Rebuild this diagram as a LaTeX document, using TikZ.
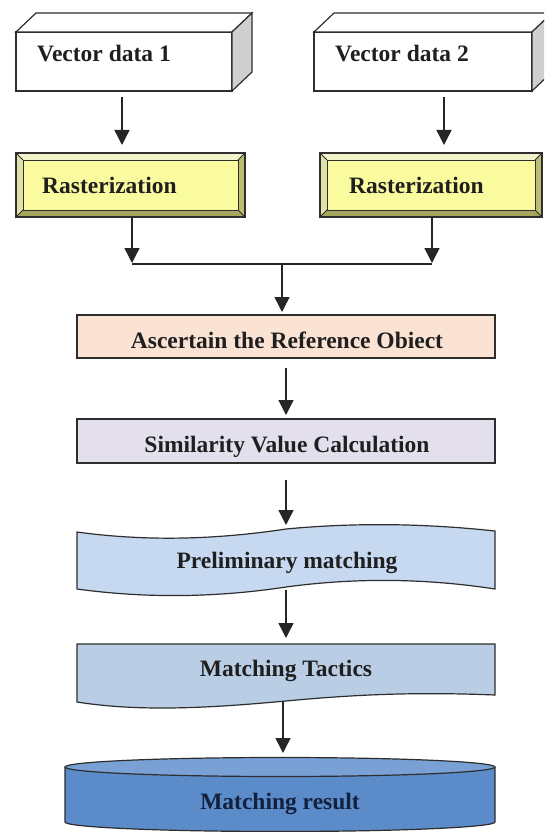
\documentclass[tikz,border=0pt]{standalone}
\usepackage{fontspec}
\setmainfont{Liberation Serif}
\usetikzlibrary{arrows.meta,calc}
\definecolor{peach}{HTML}{FBE3D3}
\definecolor{lav}{HTML}{E4DFEC}
\definecolor{tapeblue}{HTML}{C6D9F1}
\definecolor{docblue}{HTML}{B9CDE5}
\definecolor{cylbody}{HTML}{5B8BC9}
\definecolor{cyltop}{HTML}{79A1D6}
\definecolor{rasfill}{HTML}{FAFA9E}
\definecolor{bevtop}{HTML}{F4F4CC}
\definecolor{bevleft}{HTML}{E2E2A8}
\definecolor{bevright}{HTML}{BDBD72}
\definecolor{bevbot}{HTML}{A6A65E}
\definecolor{edgecol}{HTML}{2E2E2E}
\definecolor{sidegray}{HTML}{CFCFCF}
\definecolor{navytext}{HTML}{13213F}
\newcommand\bevelbox[1]{%
  \fill[bevtop] (#1.north west) -- (#1.north east) -- ([shift={(-7pt,-7pt)}]#1.north east) -- ([shift={(7pt,-7pt)}]#1.north west) -- cycle;
  \fill[bevbot] (#1.south west) -- (#1.south east) -- ([shift={(-7pt,7pt)}]#1.south east) -- ([shift={(7pt,7pt)}]#1.south west) -- cycle;
  \fill[bevleft] (#1.north west) -- ([shift={(7pt,-7pt)}]#1.north west) -- ([shift={(7pt,7pt)}]#1.south west) -- (#1.south west) -- cycle;
  \fill[bevright] (#1.north east) -- ([shift={(-7pt,-7pt)}]#1.north east) -- ([shift={(-7pt,7pt)}]#1.south east) -- (#1.south east) -- cycle;
  \draw[edgecol, line width=1pt, fill=rasfill] ([shift={(7pt,-7pt)}]#1.north west) rectangle ([shift={(-7pt,7pt)}]#1.south east);
  \draw[edgecol, line width=0.8pt] (#1.north west) -- ([shift={(7pt,-7pt)}]#1.north west)
     (#1.north east) -- ([shift={(-7pt,-7pt)}]#1.north east)
     (#1.south west) -- ([shift={(7pt,7pt)}]#1.south west)
     (#1.south east) -- ([shift={(-7pt,7pt)}]#1.south east);
  \draw[edgecol, line width=1.3pt] (#1.north west) rectangle (#1.south east);
}
\begin{document}
\begin{tikzpicture}[x=1pt,y=-1pt,
  box/.style={draw=edgecol, line width=1.3pt, inner sep=0pt, outer sep=0pt},
  anchorbox/.style={inner sep=0pt, outer sep=0pt},
  rasbox/.style={inner sep=0pt, outer sep=0pt, minimum height=64pt},
  lbl/.style={font=\fontsize{23.5}{28}\selectfont\bfseries, text=black!88, inner sep=0pt},
  conn/.style={draw=black!85, line width=1.4pt, -{Triangle[width=15pt,length=15pt]}},
  plain/.style={draw=black!85, line width=1.4pt}]
\clip (0,0) rectangle (544,832);
\fill[white] (0,0) rectangle (544,832);

% cubes
\node[box, fill=white, minimum width=216pt, minimum height=59pt] (v1) at (124,61.5) {};
\draw[edgecol, line width=1.2pt, fill=white] (v1.north west) -- ([shift={(20pt,19pt)}]v1.north west) -- ([shift={(20pt,19pt)}]v1.north east) -- (v1.north east) -- cycle;
\draw[edgecol, line width=1.2pt, fill=sidegray] (v1.north east) -- ([shift={(20pt,19pt)}]v1.north east) -- ([shift={(20pt,19pt)}]v1.south east) -- (v1.south east) -- cycle;
\node[lbl, anchor=base west] (v1t) at (37,62) {Vector data 1};

\node[box, fill=white, minimum width=218pt, minimum height=59pt] (v2) at (423,61.5) {};
\draw[edgecol, line width=1.2pt, fill=white] (v2.north west) -- ([shift={(20pt,19pt)}]v2.north west) -- ([shift={(20pt,19pt)}]v2.north east) -- (v2.north east) -- cycle;
\draw[edgecol, line width=1.2pt, fill=sidegray] (v2.north east) -- ([shift={(20pt,19pt)}]v2.north east) -- ([shift={(20pt,19pt)}]v2.south east) -- (v2.south east) -- cycle;
\node[lbl, anchor=base west] (v2t) at (335,62) {Vector data 2};

% rasterization
\node[rasbox, minimum width=229pt] (r1) at (130.5,185) {};
\bevelbox{r1}
\node[lbl, anchor=base west] (r1t) at (42,193) {Rasterization};
\node[rasbox, minimum width=222pt] (r2) at (431,185) {};
\bevelbox{r2}
\node[lbl, anchor=base west] (r2t) at (349,193) {Rasterization};

% main boxes
\node[box, fill=peach, minimum width=418pt, minimum height=43pt] (asc) at (286,336.5) {};
\node[lbl, anchor=base] (asct) at (287,348) {Ascertain the Reference Obiect};
\node[box, fill=lav, minimum width=418pt, minimum height=44pt] (sim) at (286,441) {};
\node[lbl, anchor=base] (simt) at (287,452) {Similarity Value Calculation};

% tape
\node[anchorbox, minimum width=418pt, minimum height=57pt] (pre) at (286,560.5) {};
\draw[edgecol, line width=1.2pt, fill=tapeblue] (77,532) .. controls (150,542) and (220,539) .. (286,529) .. controls (360,522) and (430,524) .. (495,531) -- (495,589) .. controls (430,579) and (360,577) .. (286,587) .. controls (220,597) and (150,599) .. (77,589) -- cycle;
\node[lbl, anchor=base] (pret) at (287,568) {Preliminary matching};

% document
\node[anchorbox, minimum width=418pt, minimum height=58pt] (tac) at (286,673) {};
\draw[edgecol, line width=1.2pt, fill=docblue] (77,644) -- (495,644) -- (495,695) .. controls (420,692) and (360,694) .. (286,701) .. controls (210,708) and (140,712) .. (77,702) -- cycle;
\node[lbl, anchor=base] (tact) at (286,676) {Matching Tactics};

% cylinder
\node[anchorbox, minimum width=430pt, minimum height=74pt] (res) at (280,795) {};
\fill[cylbody] (65,767) -- (65,822) arc[start angle=180, end angle=360, x radius=215pt, y radius=9.5pt] -- (495,767) -- cycle;
\draw[edgecol, line width=1.2pt] (65,767) -- (65,822) arc[start angle=180, end angle=360, x radius=215pt, y radius=9.5pt] -- (495,767);
\draw[edgecol, line width=1.2pt, fill=cyltop] (280,767) ellipse[x radius=215pt, y radius=9.5pt];
\node[lbl, anchor=base, text=navytext] (rest) at (280,809) {Matching result};

% connectors
\coordinate (a1s) at ([xshift=-2pt,yshift=-6pt]v1.south);
\draw[conn, shorten >=8pt] (a1s) -- (a1s |- r1.north);
\coordinate (a2s) at ([xshift=21pt,yshift=-6pt]v2.south);
\draw[conn, shorten >=8pt] (a2s) -- (a2s |- r2.north);
\coordinate (m) at (282,264);
\coordinate (b1s) at ([xshift=1.5pt]r1.south);
\coordinate (b2s) at ([xshift=1pt]r2.south);
\draw[conn, shorten >=1pt] (b1s) -- (b1s |- m);
\draw[conn, shorten >=1pt] (b2s) -- (b2s |- m);
\draw[plain] (b1s |- m) -- (b2s |- m);
\draw[conn, shorten >=3pt] (m) -- (m |- asc.north);
\draw[conn, shorten <=10pt, shorten >=4pt] (asc.south) -- (sim.north);
\draw[conn, shorten <=17pt, shorten >=7pt] (sim.south) -- (pre.north);
\draw[conn, shorten <=1pt, shorten >=6pt] (pre.south) -- (tac.north);
\coordinate (c1s) at ([xshift=-3pt]tac.south);
\draw[conn, shorten >=5pt] (c1s) -- (c1s |- res.north);
\end{tikzpicture}
\end{document}
